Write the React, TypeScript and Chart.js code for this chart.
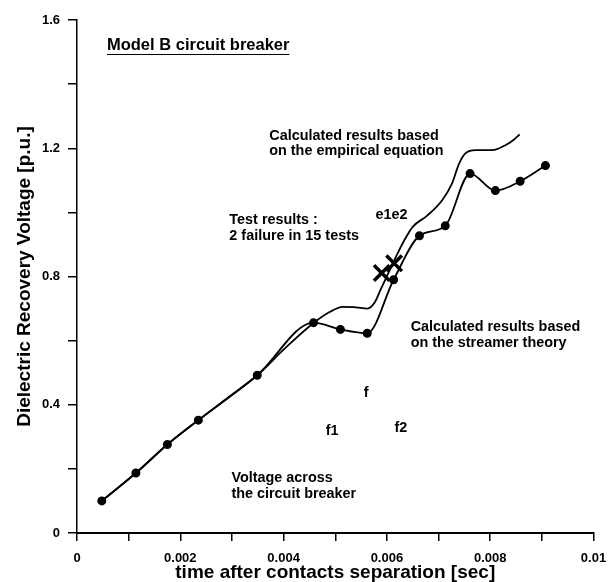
import React, { useEffect, useRef } from "react";
import { Chart, registerables } from "chart.js";

Chart.register(...registerables);

// Streamer-theory curve (with markers)
const streamerTime = [0.00048, 0.00114, 0.00175, 0.00235, 0.00349, 0.00458, 0.0051, 0.00562, 0.00613, 0.00663, 0.00713, 0.00761, 0.0081, 0.00858, 0.00907];
const streamerVolt = [0.1, 0.187, 0.276, 0.352, 0.492, 0.656, 0.635, 0.623, 0.79, 0.927, 0.958, 1.121, 1.068, 1.097, 1.146];

// Empirical-equation curve (no markers)
const empiricalTime = [0.00048, 0.00114, 0.00175, 0.00235, 0.00292, 0.00349, 0.004, 0.00458, 0.0049, 0.00515, 0.0054, 0.00562, 0.00576, 0.00588, 0.00605, 0.0062, 0.00634, 0.0065, 0.00678, 0.00707, 0.00726, 0.0074, 0.00752, 0.00772, 0.00804, 0.0083, 0.00845, 0.00857];
const empiricalVolt = [0.1, 0.187, 0.276, 0.352, 0.422, 0.492, 0.572, 0.655, 0.69, 0.705, 0.704, 0.7, 0.718, 0.76, 0.818, 0.87, 0.914, 0.955, 0.99, 1.038, 1.09, 1.153, 1.184, 1.194, 1.194, 1.21, 1.226, 1.243];

// Test failures (X marks)
const failureTime = [0.0059, 0.00614];
const failureVolt = [0.811, 0.841];

// Axis tick labels
const xTickLabels = ["0", "0.002", "0.004", "0.006", "0.008", "0.01"];
const yTickLabels = ["0", "0.4", "0.8", "1.2", "1.6"];

// Text annotations (data coordinates)
const noteTexts = [
  "Model B circuit breaker",
  "Calculated results based",
  "on the empirical equation",
  "Test results :",
  "2 failure in 15 tests",
  "e1e2",
  "Calculated results based",
  "on the streamer theory",
  "f",
  "f1",
  "f2",
  "Voltage across",
  "the circuit breaker",
];
const noteTime = [0.00058, 0.003722, 0.003722, 0.00295, 0.00295, 0.00578, 0.00646, 0.00646, 0.0056, 0.00494, 0.00627, 0.00299, 0.00299];
const noteVolt = [1.522, 1.238, 1.192, 0.976, 0.927, 0.992, 0.641, 0.591, 0.437, 0.318, 0.326, 0.17, 0.121];
const noteAlign = ["left", "left", "left", "left", "left", "left", "left", "left", "center", "center", "center", "left", "left"];

const FONT = '"Liberation Sans", Arial, sans-serif';

const zip = (xs: number[], ys: number[]) => xs.map((x, i) => ({ x, y: ys[i] }));

const notesPlugin = {
  id: "notes",
  afterDraw(chart: any) {
    const { ctx, scales } = chart;
    ctx.save();
    ctx.fillStyle = "#000";
    ctx.textBaseline = "middle";
    noteTexts.forEach((t, i) => {
      const px = scales.x.getPixelForValue(noteTime[i]);
      const py = scales.y.getPixelForValue(noteVolt[i]);
      const isTitle = i === 0;
      ctx.font = isTitle ? `bold 16.5px ${FONT}` : `bold 14.4px ${FONT}`;
      ctx.textAlign = noteAlign[i] as CanvasTextAlign;
      ctx.fillText(t, px, py);
      if (isTitle) {
        const w = ctx.measureText(t).width;
        ctx.strokeStyle = "#000";
        ctx.lineWidth = 1;
        ctx.beginPath();
        ctx.moveTo(px, py + 9.5);
        ctx.lineTo(px + w, py + 9.5);
        ctx.stroke();
      }
    });
    ctx.restore();
  },
};

export default function App() {
  const ref = useRef<HTMLCanvasElement | null>(null);

  useEffect(() => {
    document.body.style.margin = "0";
    const canvas = ref.current;
    if (!canvas) return;
    const chart = new Chart(canvas, {
      type: "scatter",
      data: {
        datasets: [
          {
            label: "empirical",
            data: zip(empiricalTime, empiricalVolt),
            showLine: true,
            cubicInterpolationMode: "monotone",
            borderColor: "#000",
            borderWidth: 1.8,
            pointRadius: 0,
            fill: false,
          },
          {
            label: "streamer",
            data: zip(streamerTime, streamerVolt),
            showLine: true,
            cubicInterpolationMode: "monotone",
            borderColor: "#000",
            borderWidth: 1.8,
            pointRadius: 3.6,
            pointBackgroundColor: "#000",
            pointBorderColor: "#000",
            fill: false,
          },
          {
            label: "failures",
            data: zip(failureTime, failureVolt),
            showLine: false,
            pointStyle: "crossRot",
            pointRadius: 11,
            pointBorderWidth: 3.5,
            pointBorderColor: "#000",
            borderColor: "#000",
          },
        ],
      } as any,
      options: {
        responsive: false,
        animation: false,
        layout: { padding: { top: 20, right: 1, left: 0, bottom: 0 } },
        plugins: { legend: { display: false }, tooltip: { enabled: false } },
        scales: {
          x: {
            type: "linear",
            min: 0,
            max: 0.01,
            afterFit: (s: any) => {
              s.height = 49;
              s.paddingRight = 13;
              s.paddingLeft = 0;
            },
            border: { display: true, color: "#000", width: 2 },
            grid: { display: true, drawOnChartArea: false, drawTicks: true, tickLength: 8, color: "#000", lineWidth: 1.5 },
            ticks: {
              stepSize: 0.001,
              autoSkip: false,
              maxRotation: 0,
              padding: 10,
              color: "#000",
              font: { family: FONT, size: 13, weight: "bold" },
              callback: (v: any) => {
                const k = Math.round(Number(v) * 1000);
                return k % 2 === 0 ? xTickLabels[k / 2] : "";
              },
            },
            title: {
              display: true,
              text: "time after contacts separation [sec]",
              color: "#000",
              font: { family: FONT, size: 19, weight: "bold", lineHeight: 1 },
              padding: { top: 0, bottom: 0 },
            },
          },
          y: {
            type: "linear",
            min: 0,
            max: 1.6,
            afterFit: (s: any) => {
              s.width = 77;
            },
            border: { display: true, color: "#000", width: 1.5 },
            grid: { display: true, drawOnChartArea: false, drawTicks: true, tickLength: 9, color: "#000", lineWidth: 1.5 },
            ticks: {
              stepSize: 0.2,
              autoSkip: false,
              padding: 8,
              color: "#000",
              font: { family: FONT, size: 13, weight: "bold" },
              callback: (v: any) => {
                const k = Math.round(Number(v) * 10);
                return k % 4 === 0 ? yTickLabels[k / 4] : "";
              },
            },
            title: {
              display: true,
              text: "Dielectric Recovery Voltage [p.u.]",
              color: "#000",
              font: { family: FONT, size: 19, weight: "bold", lineHeight: 1 },
              padding: { top: 15, bottom: 0 },
            },
          },
        },
      } as any,
      plugins: [notesPlugin],
    });
    return () => chart.destroy();
  }, []);

  return <canvas ref={ref} width={608} height={582} style={{ display: "block" }} />;
}
